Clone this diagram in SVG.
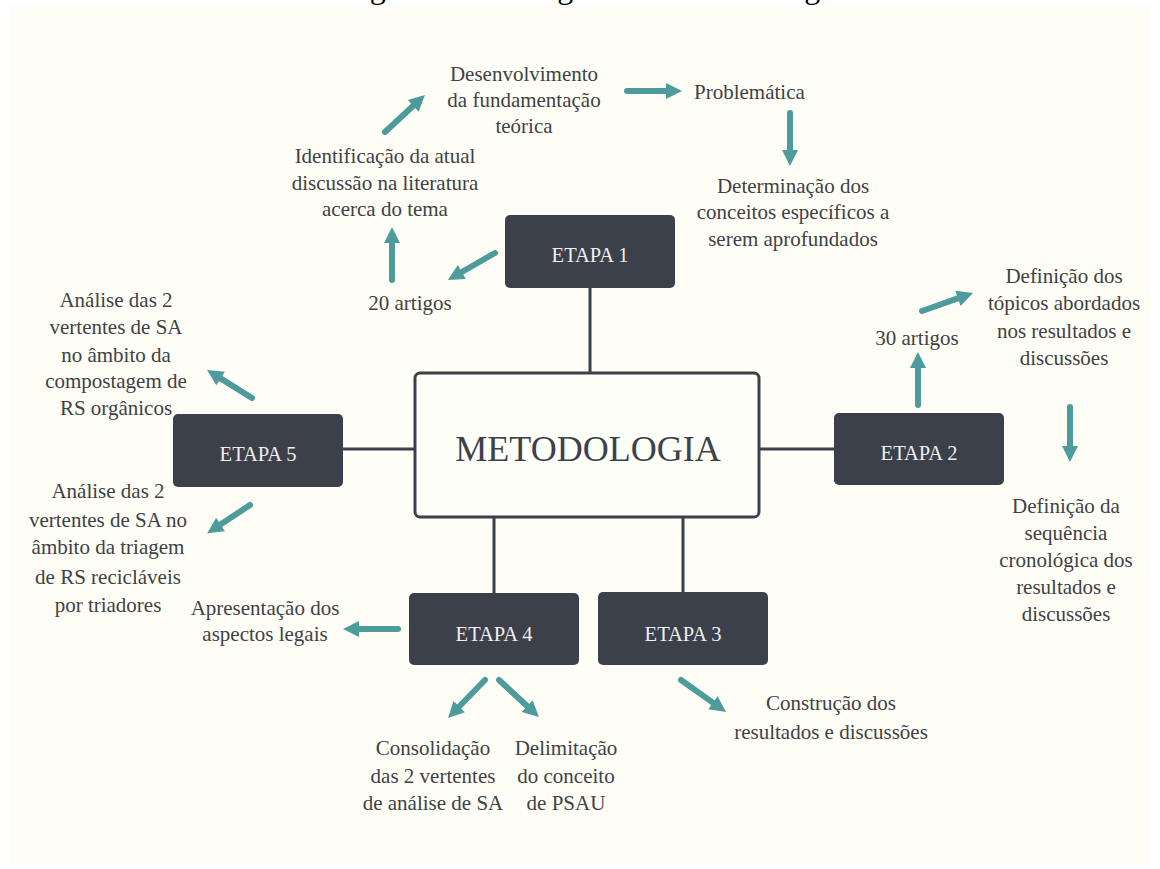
<svg xmlns="http://www.w3.org/2000/svg" width="1160" height="869" viewBox="0 0 1160 869">
<defs>
<style>
.box{fill:#3b404b}
.conn{stroke:#3b404b;stroke-width:3;fill:none}
.arr{stroke:#4d9b9c;stroke-width:6;stroke-linecap:round;fill:none;marker-end:url(#ah)}
.lbl{font-family:'Liberation Serif',serif;font-size:21px;fill:#3f4146;text-anchor:middle}
.et{font-family:'Liberation Serif',serif;font-size:20.5px;fill:#eeeeec;text-anchor:middle}
</style>
<marker id="ah" markerUnits="userSpaceOnUse" markerWidth="20" markerHeight="20" viewBox="0 0 20 20" refX="4" refY="10" orient="auto">
<path d="M2,2 L18,10 L2,18 z" fill="#4d9b9c"/>
</marker>
</defs>
<rect width="1160" height="869" fill="#ffffff"/>
<text x="343" y="-2.5" style="font-family:'Liberation Serif',serif;font-size:32px" fill="#000">Figura 1 – Fluxograma da metodologia</text>
<rect x="11" y="5" width="1138" height="859" fill="#fefef6"/>

<g id="connectors">
<line class="conn" x1="590" y1="288" x2="590" y2="373"/>
<line class="conn" x1="343" y1="449" x2="415" y2="449"/>
<line class="conn" x1="759" y1="449" x2="834" y2="449"/>
<line class="conn" x1="494" y1="517" x2="494" y2="593"/>
<line class="conn" x1="683" y1="517" x2="683" y2="592"/>
<line class="arr" x1="495" y1="253" x2="460.1" y2="273"/>
<line class="arr" x1="392" y1="280" x2="392" y2="241"/>
<line class="arr" x1="385" y1="132" x2="414.7" y2="104.5"/>
<line class="arr" x1="627" y1="91" x2="668" y2="91"/>
<line class="arr" x1="790" y1="113" x2="790" y2="152"/>
<line class="arr" x1="918" y1="405" x2="918" y2="366"/>
<line class="arr" x1="922" y1="311" x2="959.8" y2="297.7"/>
<line class="arr" x1="1070" y1="407" x2="1070" y2="448"/>
<line class="arr" x1="252" y1="398" x2="218.9" y2="377.4"/>
<line class="arr" x1="250" y1="505" x2="218.9" y2="525.6"/>
<line class="arr" x1="398" y1="629" x2="357" y2="629"/>
<line class="arr" x1="485" y1="680" x2="457.8" y2="708"/>
<line class="arr" x1="499" y1="680" x2="528.7" y2="707.5"/>
<line class="arr" x1="681" y1="680" x2="714.6" y2="703.9"/>
</g>

<g id="metodologia">
<rect x="415" y="373" width="344" height="144" rx="5" fill="#fefef9" stroke="#3b404b" stroke-width="3"/>
<text x="588" y="461" style="font-family:'Liberation Serif',serif;font-size:36px" fill="#3d414a" text-anchor="middle">METODOLOGIA</text>
</g>
<g id="etapa1"><rect class="box" x="505" y="215" width="170" height="73" rx="5"/><text class="et" x="590" y="262">ETAPA 1</text></g>
<g id="etapa2"><rect class="box" x="834" y="413" width="170" height="72" rx="5"/><text class="et" x="919" y="460">ETAPA 2</text></g>
<g id="etapa3"><rect class="box" x="598" y="592" width="170" height="73" rx="5"/><text class="et" x="683" y="641">ETAPA 3</text></g>
<g id="etapa4"><rect class="box" x="409" y="593" width="170" height="72" rx="5"/><text class="et" x="494" y="641">ETAPA 4</text></g>
<g id="etapa5"><rect class="box" x="173" y="414" width="170" height="73" rx="5"/><text class="et" x="258" y="461">ETAPA 5</text></g>

<g id="desenvolvimento"><text class="lbl"><tspan x="524" y="81">Desenvolvimento</tspan><tspan x="524" y="107">da fundamentação</tspan><tspan x="524" y="133">teórica</tspan></text></g>
<g id="problematica"><text class="lbl" x="694" y="99" style="text-anchor:start">Problemática</text></g>
<g id="determinacao"><text class="lbl"><tspan x="793" y="193">Determinação dos</tspan><tspan x="793" y="219">conceitos específicos a</tspan><tspan x="793" y="246">serem aprofundados</tspan></text></g>
<g id="identificacao"><text class="lbl"><tspan x="385" y="163">Identificação da atual</tspan><tspan x="385" y="190">discussão na literatura</tspan><tspan x="385" y="216">acerca do tema</tspan></text></g>
<g id="artigos20"><text class="lbl" x="410" y="310">20 artigos</text></g>
<g id="artigos30"><text class="lbl" x="917" y="345">30 artigos</text></g>
<g id="topicos"><text class="lbl"><tspan x="1064" y="283">Definição dos</tspan><tspan x="1064" y="310">tópicos abordados</tspan><tspan x="1064" y="338">nos resultados e</tspan><tspan x="1064" y="365">discussões</tspan></text></g>
<g id="sequencia"><text class="lbl"><tspan x="1066" y="513">Definição da</tspan><tspan x="1066" y="540">sequência</tspan><tspan x="1066" y="567">cronológica dos</tspan><tspan x="1066" y="594">resultados e</tspan><tspan x="1066" y="621">discussões</tspan></text></g>
<g id="compostagem"><text class="lbl"><tspan x="116" y="307">Análise das 2</tspan><tspan x="116" y="334">vertentes de SA</tspan><tspan x="116" y="362">no âmbito da</tspan><tspan x="116" y="388">compostagem de</tspan><tspan x="116" y="415">RS orgânicos</tspan></text></g>
<g id="triagem"><text class="lbl"><tspan x="108" y="498">Análise das 2</tspan><tspan x="108" y="527">vertentes de SA no</tspan><tspan x="108" y="554">âmbito da triagem</tspan><tspan x="108" y="584">de RS recicláveis</tspan><tspan x="108" y="612">por triadores</tspan></text></g>
<g id="apresentacao"><text class="lbl"><tspan x="265" y="615">Apresentação dos</tspan><tspan x="265" y="641">aspectos legais</tspan></text></g>
<g id="consolidacao"><text class="lbl"><tspan x="433" y="755">Consolidação</tspan><tspan x="433" y="783">das 2 vertentes</tspan><tspan x="433" y="810">de análise de SA</tspan></text></g>
<g id="delimitacao"><text class="lbl"><tspan x="566" y="755">Delimitação</tspan><tspan x="566" y="783">do conceito</tspan><tspan x="566" y="810">de PSAU</tspan></text></g>
<g id="construcao"><text class="lbl"><tspan x="831" y="710">Construção dos</tspan><tspan x="831" y="739">resultados e discussões</tspan></text></g>
</svg>
